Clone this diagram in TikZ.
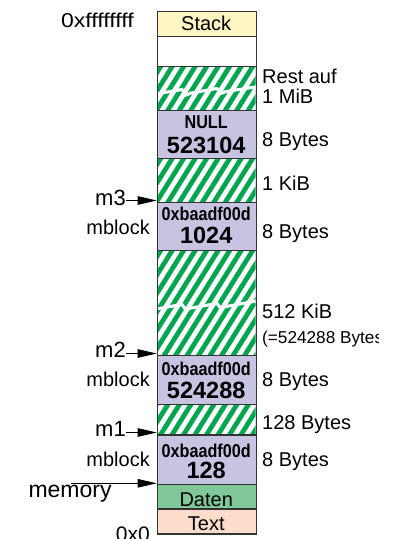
\documentclass[tikz,border=0pt]{standalone}
\usepackage{fontspec}
\setmainfont{Liberation Sans}
\usetikzlibrary{arrows.meta}
\definecolor{stackc}{HTML}{FFF5C3}
\definecolor{mblk}{HTML}{C7C4E2}
\definecolor{hatchg}{HTML}{00A550}
\definecolor{datenc}{HTML}{80C89A}
\definecolor{textc}{HTML}{FCDCCA}
\definecolor{bordc}{HTML}{333333}
\newcommand\nfont{\fontsize{20}{22}\selectfont}
\newcommand\mfont{\fontsize{22}{24}\selectfont}
\newcommand\sfont{\fontsize{17.2}{19}\selectfont}
\newcommand\bnum{\fontsize{23.5}{26}\selectfont\bfseries}
\newcommand\cond[1]{\scalebox{0.87}[1]{\fontsize{18.6}{20}\selectfont\bfseries #1}}
\newcommand\hatchblk[2]{%
  \begin{scope}
  \clip (156.7,#1) rectangle (255.7,#2);
  \fill[hatchg] (156.7,#1) rectangle (255.7,#2);
  \foreach \k in {-32,...,10} \draw[white, line width=4.7pt] ({157+\k*11.5},560) -- ++(350,-560);
  \end{scope}}
\newcommand\tear[2]{%
  \begin{scope}
  \clip (156.7,#1-25) rectangle (255.7,#1+25);
  \draw[white, line width=3pt, line join=miter] (150,#1) -- (182,#1-5.5) -- (186,#1) -- (191,#1-2) -- (217,#1-6.5) -- (221,#1-1.5) -- (226,#1-3.5) -- (262,#2);
  \end{scope}}
\begin{document}
\begin{tikzpicture}[x=1pt,y=-1pt,
  box/.style={draw=bordc, line width=1.2pt, inner sep=0pt, minimum width=99pt, anchor=north west},
  lbl/.style={inner sep=0pt, font=\nfont},
  ptr/.style={line width=0.9pt, -{Triangle[length=19pt,width=8.5pt]}},
]
\useasboundingbox (0,0) rectangle (399,539);
% hatched areas
\hatchblk{66}{109.5}
\tear{95}{86}
\hatchblk{158}{201.7}
\hatchblk{249.5}{355}
\tear{310}{300}
\hatchblk{403.8}{434.3}
% blocks
\node[box, fill=stackc, minimum height=24.7pt] (stack) at (156.7,11) {};
\node[box, fill=white, minimum height=30.3pt] (free) at (156.7,35.7) {};
\node[box, minimum height=43.5pt] (h1) at (156.7,66) {};
\node[box, fill=mblk, minimum height=48.5pt] (nullb) at (156.7,109.5) {};
\node[box, minimum height=43.7pt] (h2) at (156.7,158) {};
\node[box, fill=mblk, minimum height=47.8pt] (mb3) at (156.7,201.7) {};
\node[box, minimum height=105.5pt] (h3) at (156.7,249.5) {};
\node[box, fill=mblk, minimum height=48.8pt] (mb2) at (156.7,355) {};
\node[box, minimum height=30.5pt] (h4) at (156.7,403.8) {};
\node[box, fill=mblk, minimum height=49.2pt] (mb1) at (156.7,434.3) {};
\node[box, fill=datenc, minimum height=24.8pt] (daten) at (156.7,483.5) {};
\node[box, fill=textc, minimum height=25pt] (textb) at (156.7,508.3) {};
% block texts
\node[lbl, anchor=base] (tstack) at (206.2,30) {Stack};
\node[lbl, anchor=base] (n1a) at (206.2,128.3) {\cond{NULL}};
\node[lbl, anchor=base] (n1b) at (206.2,153.3) {\bnum 523104};
\node[lbl, anchor=base] (b3a) at (206.2,220) {\cond{0xbaadf00d}};
\node[lbl, anchor=base] (b3b) at (206.2,243.3) {\bnum 1024};
\node[lbl, anchor=base] (b2a) at (206.2,375) {\cond{0xbaadf00d}};
\node[lbl, anchor=base] (b2b) at (206.2,398.3) {\bnum 524288};
\node[lbl, anchor=base] (b1a) at (206.2,457.8) {\cond{0xbaadf00d}};
\node[lbl, anchor=base] (b1b) at (206.2,478.6) {\bnum 128};
\node[lbl, anchor=base] (tdaten) at (206.2,506) {Daten};
\node[lbl, anchor=base] (ttext) at (206.2,530) {Text};
% right labels
\node[lbl, anchor=base west] (r1) at (262,83.3) {Rest auf};
\node[lbl, anchor=base west] (r2) at (262,103.3) {1 MiB};
\node[lbl, anchor=base west] (r3) at (262,146.7) {8 Bytes};
\node[lbl, anchor=base west] (r4) at (262,190) {1 KiB};
\node[lbl, anchor=base west] (r5) at (262,238.3) {8 Bytes};
\node[lbl, anchor=base west] (r6) at (262,318.3) {512 KiB};
\begin{scope}
\clip (0,0) rectangle (378,539);
\node[lbl, font=\sfont, anchor=base west] (r7) at (262,343.3) {(=524288 Bytes)};
\end{scope}
\node[lbl, anchor=base west] (r8) at (262,386) {8 Bytes};
\node[lbl, anchor=base west] (r9) at (262,429) {128 Bytes};
\node[lbl, anchor=base west] (r10) at (262,466.7) {8 Bytes};
% left labels
\node[lbl, anchor=base west] (top) at (61,27.3) {\scalebox{1.15}[1]{0xffffffff}};
\node[lbl, font=\mfont, anchor=base east] (m3) at (126,205.7) {m3};
\node[lbl, anchor=base east] (mbl3) at (150,234) {mblock};
\node[lbl, font=\mfont, anchor=base east] (m2) at (126,357.3) {m2};
\node[lbl, anchor=base east] (mbl2) at (150,386.7) {mblock};
\node[lbl, font=\mfont, anchor=base east] (m1) at (126,436.7) {m1};
\node[lbl, anchor=base east] (mbl1) at (150,466) {mblock};
\node[lbl, font=\fontsize{23}{25}\selectfont, anchor=base west] (mem) at (28.3,497.3) {memory};
\node[lbl, font=\fontsize{21}{23}\selectfont, anchor=base east] (zero) at (150,541) {0x0};
% arrows
\coordinate (p3) at (156.7,200.5);
\coordinate (p2) at (156.7,353.5);
\coordinate (p1) at (156.7,432.5);
\coordinate (pm) at (156.7,483.3);
\coordinate (ms) at (71,483.3);
\draw[ptr] (m3.east |- p3) -- (p3);
\draw[ptr] (m2.east |- p2) -- (p2);
\draw[ptr] (m1.east |- p1) -- (p1);
\draw[ptr] (ms) -- (pm);
\end{tikzpicture}
\end{document}
